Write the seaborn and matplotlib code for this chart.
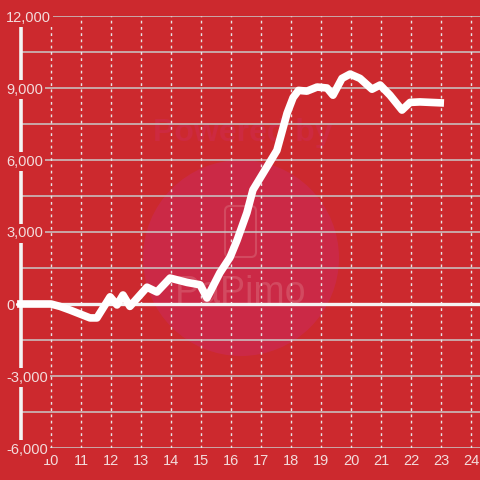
import matplotlib
matplotlib.use("Agg")
import matplotlib.pyplot as plt
import seaborn as sns
import pandas as pd
from matplotlib.patches import Circle, FancyBboxPatch

# Data
hours = [8.87, 10.0, 10.3, 10.63, 11.3, 11.53, 11.97, 12.2, 12.4, 12.63,
         13.2, 13.53, 13.97, 14.53, 14.97, 15.2, 15.63, 15.97, 16.2, 16.53,
         16.73, 17.07, 17.53, 17.87, 18.07, 18.25, 18.53, 18.87, 19.2, 19.4,
         19.7, 19.97, 20.3, 20.7, 20.97, 21.3, 21.7, 21.97, 22.3, 23.1]
values = [0, 0, -100, -250, -580, -580, 300, -40, 375, -100,
          700, 500, 1080, 900, 800, 250, 1300, 1950, 2650, 3800,
          4750, 5450, 6400, 7950, 8600, 8900, 8870, 9040, 9000, 8700,
          9400, 9580, 9400, 8950, 9125, 8700, 8080, 8400, 8420, 8375]
x_ticks = list(range(10, 25))
y_ticks = [-6000, -3000, 0, 3000, 6000, 9000, 12000]

df = pd.DataFrame({"hour": hours, "value": values})

bg = "#cc292e"
txt = "#f3dcdc"
sns.set_style("white")
plt.rcParams["font.family"] = ["Liberation Sans", "DejaVu Sans"]

fig = plt.figure(figsize=(4.8, 4.8), dpi=100, facecolor=bg)
ax = fig.add_axes([21 / 480, 32 / 480, 459 / 480, 432 / 480])
ax.set_facecolor(bg)
ax.set_axisbelow(False)

# faint watermark
ax.add_patch(Circle((241, 222), 98, transform=None, facecolor="#cb2946",
                    edgecolor="none", zorder=0))
ax.add_patch(FancyBboxPatch((225, 480 - 257), 31, 51, transform=None,
                            boxstyle="round,pad=0,rounding_size=5",
                            facecolor="none", edgecolor="#d24a60", lw=1.5,
                            zorder=0.5))
ax.text(241 / 480, 1 - 293 / 480, "PaPimo", color="#d24a60",
        fontsize=27, ha="center", va="center", zorder=0.5,
        transform=fig.transFigure)
ax.text(243 / 480, 1 - 133 / 480, "Powered by", color="#cd2a40",
        fontsize=23, fontweight="bold", ha="center", va="center",
        zorder=0.5, transform=fig.transFigure)

# grid
for v in range(-6000, 12001, 1500):
    ax.axhline(v, color="#c9c9c9", lw=1.1, zorder=1)
for h in x_ticks:
    ax.axvline(h, color="#e6e6e6", lw=1, ls=(0, (2, 2.5)), zorder=1)
ax.plot([8.87, 24.3], [0, 0], color="#f4f4f4", lw=2.4, zorder=2,
        clip_on=False)

sns.lineplot(data=df, x="hour", y="value", ax=ax, color="white", lw=5.5,
             zorder=3, solid_capstyle="butt", solid_joinstyle="round",
             clip_on=False)

ax.set_xlim(9.0, 24.3)
ax.set_ylim(-6000, 12000)
for s in ["top", "right", "bottom"]:
    ax.spines[s].set_visible(False)
ax.spines["left"].set_color("#f4f4f4")
ax.spines["left"].set_linewidth(2.6)
ax.spines["left"].set_zorder(2)

ax.set_xticks(x_ticks)
ax.set_xticklabels([str(t) for t in x_ticks])
ax.set_yticks(y_ticks)
ax.set_yticklabels([f"{v:,}" for v in y_ticks])
ax.tick_params(axis="x", length=0, pad=4, labelsize=10.5, labelcolor=txt)
ax.tick_params(axis="y", length=0, pad=10.8, labelsize=10.5, labelcolor=txt)
for lab in ax.get_yticklabels():
    lab.set_horizontalalignment("left")
    lab.set_bbox(dict(facecolor=bg, edgecolor="none", pad=1.5))
ax.yaxis.set_zorder(10)
ax.set_xlabel("")
ax.set_ylabel("")
ax.grid(False)

fig.savefig("out.png", dpi=100, facecolor=bg)
